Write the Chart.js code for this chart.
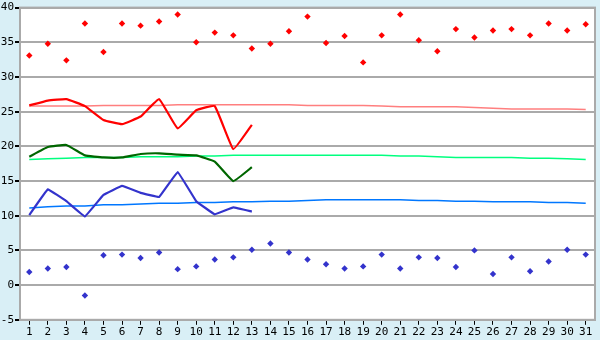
<!DOCTYPE html>
<html>
<head>
<meta charset="utf-8">
<script src="https://cdn.jsdelivr.net/npm/chart.js@4.4.1/dist/chart.umd.min.js"></script>
<style>
    html, body { margin: 0; padding: 0; background: #d9eff6; }
    #tempChart { display: block; }
</style>
</head>
<body>
<canvas id="tempChart" width="600" height="340"></canvas>
<script>
let days = [];
for (let i = 1; i <= 31; i++) days.push(String(i));

// daily extremes
let maxPoints = [33.1, 34.8, 32.4, 37.7, 33.6, 37.7, 37.4, 38.0, 39.0, 35.0, 36.4, 36.0, 34.1, 34.8, 36.6, 38.7,
    34.9, 35.9, 32.1, 36.0, 39.0, 35.3, 33.7, 36.9, 35.7, 36.7, 36.9, 36.0, 37.7, 36.7, 37.6];
let minPoints = [1.9, 2.4, 2.6, -1.5, 4.3, 4.4, 3.9, 4.7, 2.3, 2.7, 3.7, 4.0, 5.1, 6.0, 4.7, 3.7,
    3.0, 2.4, 2.7, 4.4, 2.4, 4.0, 3.9, 2.6, 5.0, 1.6, 4.0, 2.0, 3.4, 5.1, 4.4];

// running values (first 13 days)
let highLine = [25.9, 26.6, 26.8, 25.8, 23.8, 23.2, 24.3, 26.8, 22.6, 25.2, 25.8, 19.6, 23.1];
let meanLine = [18.5, 19.9, 20.2, 18.7, 18.4, 18.4, 18.9, 19.0, 18.8, 18.7, 17.8, 15.0, 17.0];
let lowLine = [10.1, 13.8, 12.1, 9.9, 13.0, 14.3, 13.3, 12.7, 16.3, 12.1, 10.2, 11.2, 10.6];

// normals
let highNormal = [25.8, 25.8, 25.8, 25.8, 25.9, 25.9, 25.9, 25.9, 26.0, 26.0, 26.0, 26.0, 26.0, 26.0, 26.0, 25.9,
    25.9, 25.9, 25.9, 25.8, 25.7, 25.7, 25.7, 25.7, 25.6, 25.5, 25.4, 25.4, 25.4, 25.4, 25.3];
let meanNormal = [18.1, 18.2, 18.3, 18.4, 18.4, 18.4, 18.5, 18.5, 18.5, 18.6, 18.6, 18.7, 18.7, 18.7, 18.7, 18.7,
    18.7, 18.7, 18.7, 18.7, 18.6, 18.6, 18.5, 18.4, 18.4, 18.4, 18.4, 18.3, 18.3, 18.2, 18.1];
let lowNormal = [11.1, 11.3, 11.4, 11.4, 11.6, 11.6, 11.7, 11.8, 11.8, 11.9, 11.9, 12.0, 12.0, 12.1, 12.1, 12.2,
    12.3, 12.3, 12.3, 12.3, 12.3, 12.2, 12.2, 12.1, 12.1, 12.0, 12.0, 12.0, 11.9, 11.9, 11.8];

let yMin = -5, yMax = 40, yStep = 5;

let plotFrame = {
    id: 'plotFrame',
    beforeDraw: function (chart) {
        let a = chart.chartArea;
        let ctx = chart.ctx;
        ctx.save();
        ctx.fillStyle = '#ffffff';
        ctx.fillRect(a.left, a.top, a.right - a.left, a.bottom - a.top);
        ctx.restore();
    },
    afterDraw: function (chart) {
        let a = chart.chartArea;
        let ctx = chart.ctx;
        ctx.save();
        ctx.strokeStyle = '#aaaaaa';
        ctx.lineWidth = 2;
        ctx.strokeRect(a.left, a.top, a.right - a.left, a.bottom - a.top);
        ctx.restore();
    }
};

function lineSet(data, color, width, tension) {
    return {
        type: 'line',
        data: data,
        borderColor: color,
        borderWidth: width,
        pointRadius: 0,
        tension: tension,
        fill: false
    };
}

function pointSet(data, color) {
    return {
        type: 'line',
        data: data,
        showLine: false,
        pointStyle: 'rectRot',
        pointRadius: 3.2,
        pointBorderWidth: 0,
        pointBackgroundColor: color,
        pointBorderColor: color
    };
}

new Chart("tempChart", {
    type: 'line',
    data: {
        labels: days,
        datasets: [
            pointSet(maxPoints, '#ff0000'),
            pointSet(minPoints, '#3333cc'),
            lineSet(highLine, '#ff0000', 2.2, 0.1),
            lineSet(meanLine, '#006600', 2.2, 0.1),
            lineSet(lowLine, '#3333cc', 2.2, 0.05),
            lineSet(highNormal, '#ff7f7f', 1.5, 0),
            lineSet(meanNormal, '#00ff7f', 1.5, 0),
            lineSet(lowNormal, '#0077ff', 1.5, 0)
        ]
    },
    options: {
        responsive: false,
        animation: false,
        devicePixelRatio: 1,
        layout: { padding: { top: 5, right: 5, left: 0, bottom: 0 } },
        plugins: {
            legend: { display: false },
            tooltip: { enabled: false }
        },
        scales: {
            x: {
                offset: true,
                border: { display: true, color: '#aaaaaa', width: 2 },
                grid: { offset: false, drawOnChartArea: false, drawTicks: true, tickLength: 5, tickColor: '#000000' },
                ticks: { color: '#000000', font: { family: 'DejaVu Sans Mono', size: 11 }, padding: 1, maxRotation: 0, autoSkip: false }
            },
            y: {
                min: yMin,
                max: yMax,
                afterFit: function (scale) { scale.width = 20; },
                border: { display: true, color: '#aaaaaa', width: 2 },
                grid: { color: '#aaaaaa', lineWidth: 2, tickLength: 5, tickColor: '#000000' },
                ticks: { stepSize: yStep, autoSkip: false, color: '#000000', font: { family: 'DejaVu Sans Mono', size: 11 }, padding: 1 }
            }
        }
    },
    plugins: [plotFrame]
});
</script>
</body>
</html>
